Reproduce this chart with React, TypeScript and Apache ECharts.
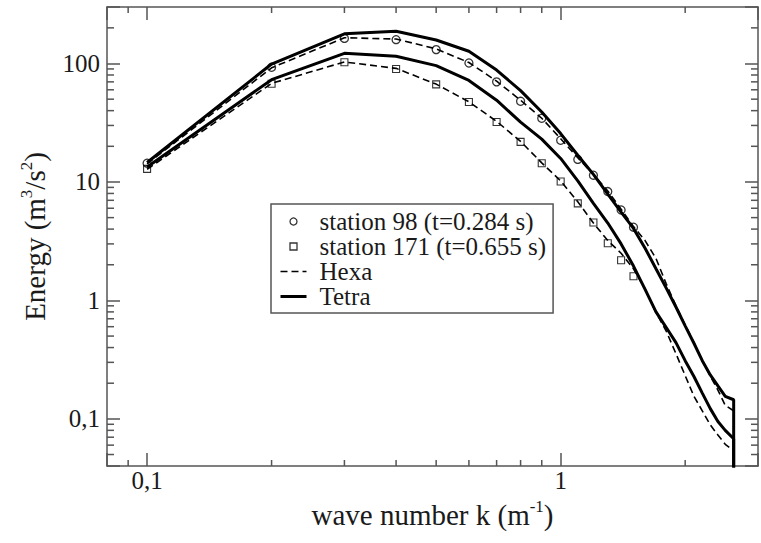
import { useEffect, useRef } from "react";
import * as echarts from "echarts";

// wave numbers of the simulated curves (last two: end of curve and its drop)
const kLine = [0.1, 0.2, 0.3, 0.4, 0.5, 0.6, 0.7, 0.8, 0.9, 1.0, 1.1, 1.2, 1.3, 1.4, 1.5, 1.6, 1.7, 1.8, 1.9, 2.0, 2.1, 2.2, 2.3, 2.4, 2.5, 2.62, 2.62];
const hexa98 = [14.2, 92, 165, 161, 133, 102, 71, 49, 34.5, 23.2, 16, 11.6, 8.4, 5.9, 4.2, 3.2, 2.26, 1.38, 0.9, 0.62, 0.44, 0.31, 0.23, 0.175, 0.13, 0.117, 0.01];
const tetra98 = [14.6, 99, 178, 187, 158, 127, 88, 59, 39, 25.6, 16.8, 11.6, 7.9, 5.56, 4.05, 2.76, 1.85, 1.27, 0.88, 0.61, 0.435, 0.31, 0.235, 0.19, 0.155, 0.145, 0.01];
const hexa171 = [12.8, 68, 103, 91, 67, 47.5, 32.5, 22, 14.5, 10.2, 6.8, 4.5, 3.2, 2.5, 1.85, 1.25, 0.79, 0.55, 0.355, 0.232, 0.155, 0.117, 0.089, 0.073, 0.061, 0.054, 0.01];
const tetra171 = [13.4, 73, 122, 115, 96, 72, 49, 32, 23, 15.8, 10.2, 6.6, 4.5, 3.0, 1.95, 1.24, 0.8, 0.59, 0.44, 0.31, 0.228, 0.165, 0.122, 0.095, 0.08, 0.068, 0.01];

// measured stations
const kMarkers = [0.1, 0.2, 0.3, 0.4, 0.5, 0.6, 0.7, 0.8, 0.9, 1.0, 1.1, 1.2, 1.3, 1.4, 1.5];
const station98 = [14.4, 93, 163, 159, 131, 101, 70, 48, 34.5, 22.5, 15.5, 11.4, 8.3, 5.8, 4.15];
const station171 = [12.9, 67.5, 102.6, 90, 66.7, 47.3, 32.1, 21.8, 14.4, 10.1, 6.6, 4.55, 3.04, 2.18, 1.6];

// axes
const xMin = 0.08;
const xMax = 3;
const yMin = 0.04;
const yMax = 300;
const xMajorTicks = [0.1, 1];
const xTickLabels = ["0,1", "1"];
const xMinorTicks = [0.09, 0.2, 0.3, 0.4, 0.5, 0.6, 0.7, 0.8, 0.9, 2];
const yMajorTicks = [0.1, 1, 10, 100];
const yTickLabels = ["0,1", "1", "10", "100"];
const yMinorTicks = [0.05, 0.06, 0.07, 0.08, 0.09, 0.2, 0.3, 0.4, 0.5, 0.6, 0.7, 0.8, 0.9, 2, 3, 4, 5, 6, 7, 8, 9, 20, 30, 40, 50, 60, 70, 80, 90, 200];

const nameS98 = "station 98 (t=0.284 s)";
const nameS171 = "station 171 (t=0.655 s)";

const FONT = "'Liberation Serif', 'Times New Roman', serif";
const TEXT = "#1a1a1a";
const AXIS = "#555";

function labelFor(values: number[], labels: string[]) {
  return (v: number) => {
    const i = values.findIndex((t) => Math.abs(t - v) / t < 1e-6);
    return i >= 0 ? labels[i] : "";
  };
}

function pairs(xs: number[], ys: number[]) {
  return xs.map((x, i) => [x, ys[i]]);
}

export default function App() {
  const ref = useRef<HTMLDivElement>(null);
  useEffect(() => {
    document.body.style.margin = "0";
    if (!ref.current) return;
    const chart = echarts.init(ref.current, null, { renderer: "svg" });

    const axisLine = { show: true, lineStyle: { color: AXIS, width: 1.5 } };
    const majorTick = { show: true, inside: true, length: 13, lineStyle: { color: AXIS, width: 1.5 } };
    const tickStyle = { stroke: AXIS, lineWidth: 1.5 };
    const noIcon = { color: "rgba(0,0,0,0)", borderColor: "rgba(0,0,0,0)", borderWidth: 0 };

    const lineSeries = (name: string, ys: number[], dashed: boolean) => ({
      type: "line",
      name,
      data: pairs(kLine, ys),
      symbol: "none",
      showSymbol: false,
      silent: true,
      z: 3,
      lineStyle: dashed
        ? { color: "#000", width: 1.6, type: [7, 4] }
        : { color: "#000", width: 3 },
      itemStyle: { color: "#000" },
    });

    const titleStyle = {
      fontFamily: FONT,
      fontSize: 29,
      color: TEXT,
      lineHeight: 34,
      rich: {
        sup: { fontFamily: FONT, fontSize: 17, color: TEXT, verticalAlign: "top", lineHeight: 20 },
      },
    };

    const option: any = {
      animation: false,
      backgroundColor: "#fff",
      grid: { left: 107, right: 0, top: 7, bottom: 77, containLabel: false },
      xAxis: [
        {
          type: "log",
          position: "bottom",
          min: xMin,
          max: xMax,
          logBase: 10,
          axisLine,
          axisTick: majorTick,
          splitLine: { show: false },
          axisLabel: {
            margin: 2,
            fontFamily: FONT,
            fontSize: 25,
            color: TEXT,
            formatter: labelFor(xMajorTicks, xTickLabels),
          },
          name: "wave number k (m{sup|-1})",
          nameLocation: "middle",
          nameGap: 29,
          nameTextStyle: titleStyle,
        },
        {
          type: "log",
          position: "top",
          min: xMin,
          max: xMax,
          axisLine,
          axisTick: majorTick,
          splitLine: { show: false },
          axisLabel: { show: false },
        },
      ],
      yAxis: [
        {
          type: "log",
          position: "left",
          min: yMin,
          max: yMax,
          axisLine,
          axisTick: majorTick,
          splitLine: { show: false },
          axisLabel: {
            margin: 7,
            fontFamily: FONT,
            fontSize: 25,
            color: TEXT,
            formatter: labelFor(yMajorTicks, yTickLabels),
          },
          name: "Energy (m{sup|3}/s{sup|2})",
          nameLocation: "middle",
          nameRotate: 90,
          nameGap: 54,
          nameTextStyle: titleStyle,
        },
        {
          type: "log",
          position: "right",
          min: yMin,
          max: yMax,
          axisLine,
          axisTick: majorTick,
          splitLine: { show: false },
          axisLabel: { show: false },
        },
      ],
      legend: {
        left: 271,
        top: 204,
        orient: "vertical",
        selectedMode: false,
        backgroundColor: "#fff",
        borderColor: AXIS,
        borderWidth: 1.5,
        borderRadius: 0,
        padding: [5, 7, 4, 8],
        itemGap: 0,
        itemWidth: 26,
        itemHeight: 7,
        textStyle: { fontFamily: FONT, fontSize: 25, color: TEXT, lineHeight: 22, padding: [0, 0, 0, 8] },
        itemStyle: { borderWidth: 1.3 },
        lineStyle: { width: "inherit" },
        data: [
          { name: nameS98, icon: "circle" },
          { name: nameS171, icon: "path://M0,0H10V10H0Z" },
          { name: "Hexa", itemStyle: noIcon },
          { name: "Tetra", itemStyle: noIcon },
        ],
      },
      series: [
        lineSeries("Hexa", hexa98, true),
        lineSeries("Hexa", hexa171, true),
        lineSeries("Tetra", tetra98, false),
        lineSeries("Tetra", tetra171, false),
        {
          type: "scatter",
          name: nameS98,
          data: pairs(kMarkers, station98),
          symbol: "circle",
          symbolSize: 8,
          silent: true,
          z: 4,
          itemStyle: { color: "rgba(0,0,0,0)", borderColor: "#000", borderWidth: 1.3 },
        },
        {
          type: "scatter",
          name: nameS171,
          data: pairs(kMarkers, station171),
          symbol: "rect",
          symbolSize: 7,
          silent: true,
          z: 4,
          itemStyle: { color: "rgba(0,0,0,0)", borderColor: "#000", borderWidth: 1.1 },
        },
        {
          type: "custom",
          silent: true,
          clip: false,
          z: 2,
          data: xMinorTicks.map((v) => [v, 1]),
          renderItem: (params: any, api: any) => {
            const cs = params.coordSys;
            const x = api.coord([api.value(0), 1])[0];
            const yb = cs.y + cs.height;
            const yt = cs.y;
            return {
              type: "group",
              children: [
                { type: "line", shape: { x1: x, y1: yb, x2: x, y2: yb - 6 }, style: tickStyle },
                { type: "line", shape: { x1: x, y1: yt, x2: x, y2: yt + 6 }, style: tickStyle },
              ],
            };
          },
        },
        {
          type: "custom",
          silent: true,
          clip: false,
          z: 2,
          data: yMinorTicks.map((v) => [1, v]),
          renderItem: (params: any, api: any) => {
            const cs = params.coordSys;
            const y = api.coord([1, api.value(1)])[1];
            const xl = cs.x;
            const xr = cs.x + cs.width;
            return {
              type: "group",
              children: [
                { type: "line", shape: { x1: xl, y1: y, x2: xl + 7, y2: y }, style: tickStyle },
                { type: "line", shape: { x1: xr, y1: y, x2: xr - 7, y2: y }, style: tickStyle },
              ],
            };
          },
        },
      ],
    };

    chart.setOption(option);
    return () => chart.dispose();
  }, []);

  return <div ref={ref} style={{ width: 761, height: 543 }} />;
}
